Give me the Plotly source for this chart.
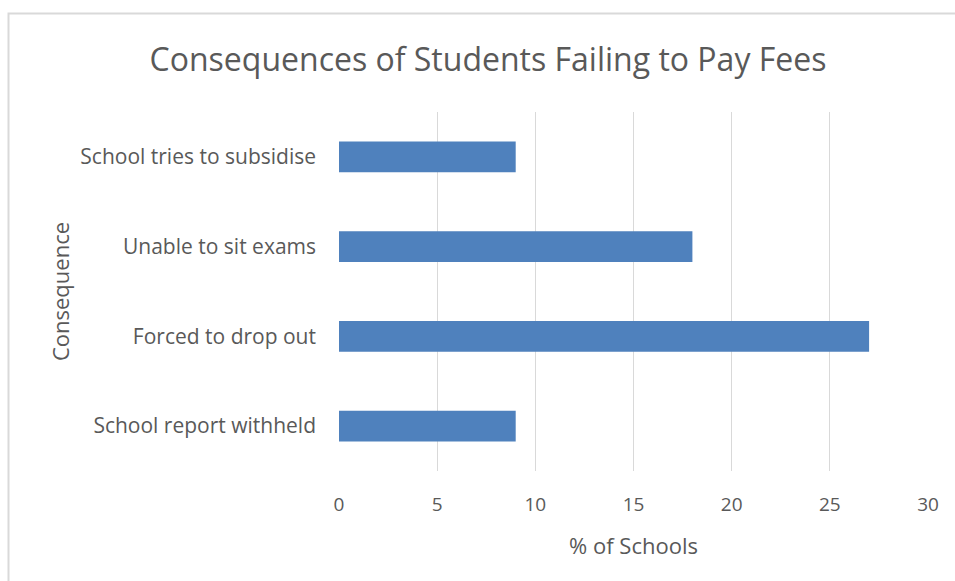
import plotly.graph_objects as go

categories = ["School report withheld", "Forced to drop out", "Unable to sit exams", "School tries to subsidise"]
values = [9, 27, 18, 9]
x_ticks = [0, 5, 10, 15, 20, 25, 30]

FONT = "Open Sans"
TXT = "#595959"

fig = go.Figure(go.Bar(
    y=categories, x=values, orientation="h",
    marker=dict(color="#4F81BD", line=dict(width=0)),
    width=0.345,
))

L, R, T, B = 339, 955 - 928, 112, 581 - 471
W, H = 955, 581
pw, ph = W - L - R, H - T - B

fig.update_layout(
    width=W, height=H,
    margin=dict(l=L, r=R, t=T, b=B),
    paper_bgcolor="white", plot_bgcolor="white",
    showlegend=False,
    title=dict(text="Consequences of Students Failing to Pay Fees",
               font=dict(family=FONT, size=32, color=TXT),
               x=488 / W, xanchor="center", y=1 - 60 / H, yanchor="middle"),
    xaxis=dict(range=[0, 30], tickvals=x_ticks, showgrid=True, gridcolor="#D9D9D9", gridwidth=1,
               zeroline=False, showline=False, ticks="",
               tickfont=dict(family=FONT, size=19, color=TXT), ticklabelstandoff=20,
               title=dict(text="% of Schools", font=dict(family=FONT, size=22, color=TXT), standoff=22)),
    yaxis=dict(categoryorder="array", categoryarray=categories, range=[-0.5, 3.5],
               showgrid=False, zeroline=False, showline=False, ticks="",
               tickfont=dict(family=FONT, size=21, color=TXT), ticklabelstandoff=22,
               title=dict(text="Consequence", font=dict(family=FONT, size=22, color=TXT), standoff=4)),
)

# outer chart border
fig.add_shape(type="rect", xref="paper", yref="paper",
              x0=(8.5 - L) / pw, x1=(W + 20 - L) / pw,
              y0=(H - B - (H + 20)) / ph, y1=(H - B - 13.5) / ph,
              line=dict(color="#D9D9D9", width=2), layer="below")

fig.write_html("out.html")
